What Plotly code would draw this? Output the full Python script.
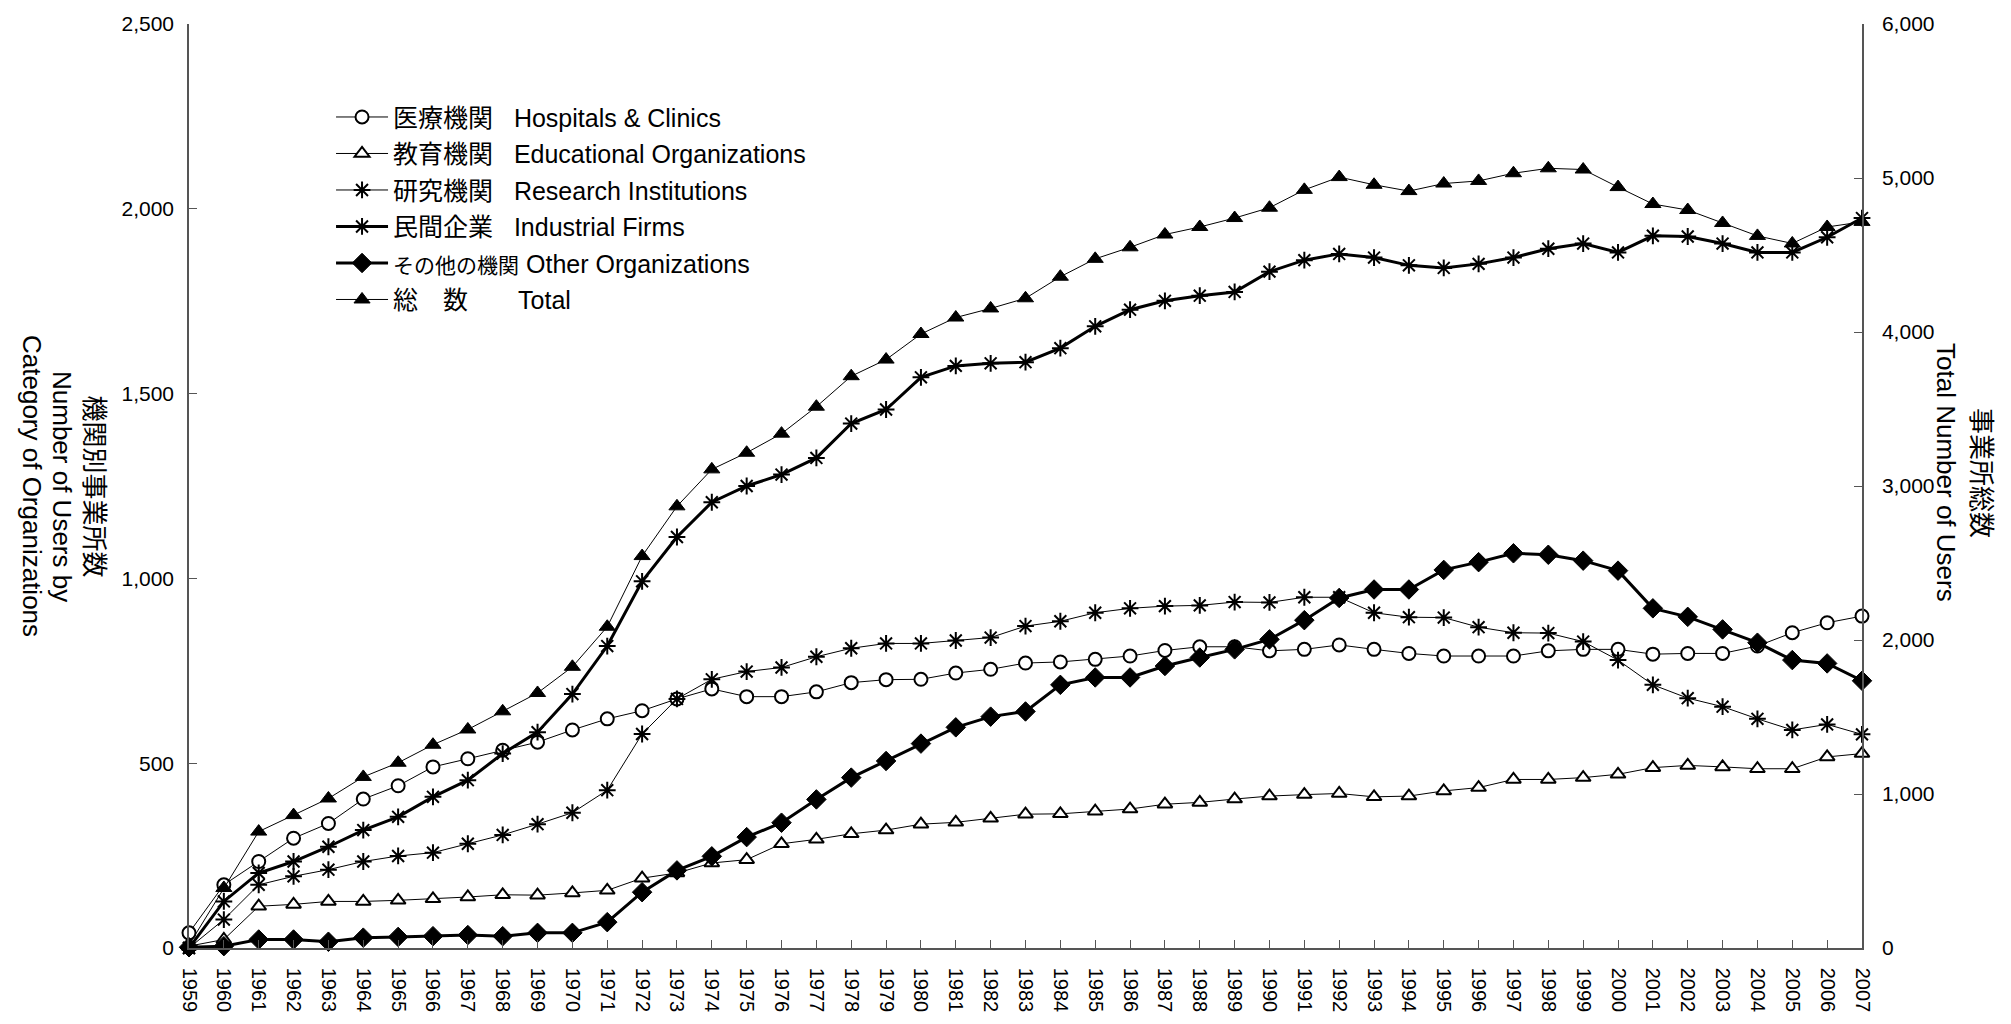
import plotly.graph_objects as go

years = list(range(1959, 2008))

hospitals = [41, 171, 234, 297, 337, 403, 439, 490, 512, 535, 557, 590, 620, 642, 674,
             701, 680, 680, 693, 718, 726, 727, 744, 754, 771, 774, 781, 790, 805, 815,
             815, 804, 808, 820, 808, 797, 790, 790, 790, 804, 808, 808, 795, 797, 797,
             817, 853, 880, 898]
education = [5, 23, 113, 118, 126, 126, 129, 133, 138, 144, 143, 149, 156, 189, 203,
             230, 239, 282, 294, 309, 319, 335, 340, 351, 362, 363, 370, 376, 389, 394,
             403, 411, 415, 418, 409, 411, 425, 434, 456, 456, 461, 470, 488, 494, 490,
             485, 485, 517, 526]
research = [0, 77, 171, 194, 212, 234, 249, 258, 282, 306, 335, 366, 427, 579, 674,
            727, 748, 759, 788, 811, 824, 824, 832, 840, 871, 884, 907, 919, 925, 927,
            936, 935, 949, 949, 907, 895, 894, 868, 853, 852, 829, 779, 712, 676, 653,
            620, 590, 605, 578]
industrial = [0, 126, 203, 234, 274, 319, 355, 409, 454, 526, 584, 687, 817, 992, 1112,
              1206, 1250, 1281, 1326, 1419, 1457, 1544, 1575, 1582, 1585, 1623, 1682, 1727, 1751, 1765,
              1775, 1830, 1861, 1878, 1868, 1847, 1840, 1851, 1868, 1892, 1906, 1882, 1927, 1925, 1906,
              1882, 1882, 1923, 1975]
other = [2, 5, 23, 23, 17, 28, 30, 32, 35, 32, 41, 41, 70, 151, 210,
         248, 300, 339, 402, 461, 506, 553, 597, 626, 640, 712, 732, 732, 763, 786,
         808, 835, 887, 947, 970, 970, 1023, 1044, 1068, 1064, 1048, 1021, 919, 896, 862,
         826, 779, 770, 723]
total = [20, 390, 756, 863, 971, 1111, 1203, 1320, 1419, 1537, 1656, 1826, 2086, 2545, 2868,
         3108, 3216, 3340, 3515, 3713, 3821, 3987, 4094, 4153, 4219, 4359, 4475, 4550, 4633, 4682,
         4740, 4807, 4923, 5006, 4956, 4915, 4964, 4981, 5031, 5063, 5055, 4941, 4831, 4792, 4708,
         4624, 4575, 4682, 4715]

NB = "\u00a0"
names = [
    "医療機関" + NB * 3 + "Hospitals &amp; Clinics",
    "教育機関" + NB * 3 + "Educational Organizations",
    "研究機関" + NB * 3 + "Research Institutions",
    "民間企業" + NB * 3 + "Industrial Firms",
    "<span style=\"font-size:21px\">その他の機関</span>" + NB + "Other Organizations",
    "総\u3000数\u3000\u3000Total",
]

left_title = ["機関別事業所数", "Number of Users by", "Category of Organizations"]
right_title = ["事業所総数", "Total Number of Users"]

FONT = "Liberation Sans, Arial, Noto Sans CJK JP, sans-serif"
BLACK = "#000000"

fig = go.Figure()

def add(y, name, symbol, size, lw, mlw=2, axis="y", fill=True, group="g"):
    fig.add_trace(go.Scatter(
        x=years, y=y, name=name, mode="lines+markers", yaxis=axis,
        legendgroup=group,
        line=dict(color=BLACK, width=lw),
        marker=dict(symbol=symbol, size=size, color=BLACK if fill else "white",
                    line=dict(color=BLACK, width=mlw)),
        cliponaxis=False,
    ))

add(hospitals, names[0], "circle", 13, 1, mlw=2, fill=False, group="a")
add(education, names[1], "triangle-up", 13, 1, mlw=2, fill=False, group="b")
add(research, names[2], "asterisk-open", 14, 1, mlw=2, group="c")
add(industrial, names[3], "asterisk-open", 14, 3, mlw=2, group="d")
add(other, names[4], "diamond", 15, 3, mlw=1, group="e")
add(total, names[5], "triangle-up", 14, 1, mlw=1, axis="y2", group="f")

axis_common = dict(showline=True, linecolor="#555555", linewidth=1.5, ticks="inside",
                   ticklen=8, tickcolor="#555555", showgrid=False, zeroline=False,
                   tickfont=dict(family=FONT, size=21, color=BLACK))

fig.update_layout(
    width=2011, height=1024,
    margin=dict(l=189, r=149, t=23, b=72),
    paper_bgcolor="white", plot_bgcolor="white",
    font=dict(family=FONT, color=BLACK),
    xaxis=dict(range=[1959, 2007], tickvals=years, ticktext=[str(v) for v in years],
               tickangle=90, ticklabelstandoff=14,
               **{**axis_common, "tickfont": dict(family=FONT, size=20, color=BLACK)}),
    yaxis=dict(range=[0, 2500], dtick=500, tickformat=",", ticklabelstandoff=9, **axis_common),
    yaxis2=dict(range=[0, 6000], dtick=1000, tickformat=",", overlaying="y", side="right",
                ticklabelstandoff=14, **axis_common),
    legend=dict(x=0.0849, y=0.924, xanchor="left", yanchor="top",
                font=dict(family=FONT, size=25, color=BLACK),
                bgcolor="rgba(0,0,0,0)", traceorder="grouped", tracegroupgap=1,
                itemwidth=52),
    showlegend=True,
)

# axis titles, one annotation per line (rotated clockwise like the original)
for txt, px in zip(left_title, [93.5, 62, 32]):
    fig.add_annotation(
        text=txt, xref="paper", yref="paper", x=(px - 189) / 1673, y=0.5,
        xanchor="center", yanchor="middle", textangle=90, showarrow=False,
        font=dict(family=FONT, size=26, color=BLACK),
    )
for txt, px in zip(right_title, [1981, 1946]):
    fig.add_annotation(
        text=txt, xref="paper", yref="paper", x=(px - 189) / 1673, y=(952 - 474.5) / 929,
        xanchor="center", yanchor="middle", textangle=90, showarrow=False,
        font=dict(family=FONT, size=26, color=BLACK),
    )

fig.write_html("out.html", config={"displayModeBar": False},
               post_script="document.body.style.margin='0';")
